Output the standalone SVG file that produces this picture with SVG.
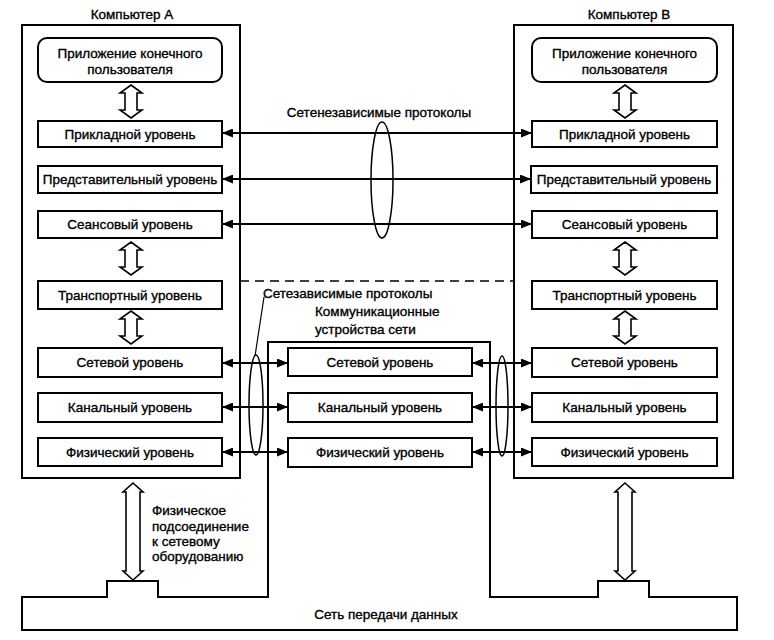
<svg xmlns="http://www.w3.org/2000/svg" width="774" height="640" viewBox="0 0 774 640">
<style>
.box{fill:#fff;stroke:#000;stroke-width:2}
.outer{fill:none;stroke:#000;stroke-width:2}
.t{font-family:"Liberation Sans",Arial,sans-serif;font-size:13.5px;fill:#000;stroke:#000;stroke-width:0.35}
.c{text-anchor:middle}
.ln{stroke:#000;stroke-width:2;fill:none}
.hol{fill:#fff;stroke:#000;stroke-width:1.6;stroke-linejoin:miter}
.ell{fill:none;stroke:#000;stroke-width:1.5}
</style>
<defs>
<marker id="ah" markerUnits="userSpaceOnUse" markerWidth="11" markerHeight="9" refX="11" refY="4.5" orient="auto-start-reverse">
<path d="M0,0 L11,4.5 L0,9 Z" fill="#000"/>
</marker>
<path id="vshort" class="hol" d="M0,0 L11,8 L6,8 L6,25 L11,25 L0,33 L-11,25 L-6,25 L-6,8 L-11,8 Z"/>
<path id="vlong" class="hol" d="M0,0 L10,9 L7,9 L7,88 L10,88 L0,97 L-10,88 L-7,88 L-7,9 L-10,9 Z"/>
</defs>

<!-- Network / communication devices outline -->
<g id="network">
<path class="outer" d="M268,342 L268,597 L158,597 L158,581 L107,581 L107,597 L22,597 L22,630 L737,630 L737,597 L649,597 L649,581 L598,581 L598,597 L490,597 L490,342 Z"/>
<text class="t c" x="386" y="619">Сеть передачи данных</text>
<text class="t" x="315" y="316">Коммуникационные</text>
<text class="t" x="315" y="334">устройства сети</text>
</g>

<!-- Computer A -->
<g id="computerA">
<text class="t c" x="132" y="19">Компьютер А</text>
<rect class="outer" x="22" y="25" width="218" height="453"/>
</g>
<g id="A-app"><rect class="box" x="38" y="38" width="184" height="44" rx="9"/><text class="t c" x="130" y="58">Приложение конечного</text><text class="t c" x="130" y="74">пользователя</text></g>
<g id="A-L7"><rect class="box" x="38" y="121" width="184" height="26"/><text class="t c" x="130" y="138.5">Прикладной уровень</text></g>
<g id="A-L6"><rect class="box" x="38" y="166" width="184" height="27"/><text class="t c" x="130" y="184">Представительный уровень</text></g>
<g id="A-L5"><rect class="box" x="38" y="211" width="184" height="27"/><text class="t c" x="130" y="229">Сеансовый уровень</text></g>
<g id="A-L4"><rect class="box" x="38" y="281" width="184" height="28"/><text class="t c" x="130" y="299.5">Транспортный уровень</text></g>
<g id="A-L3"><rect class="box" x="38" y="348" width="184" height="29"/><text class="t c" x="130" y="367">Сетевой уровень</text></g>
<g id="A-L2"><rect class="box" x="38" y="393" width="184" height="29"/><text class="t c" x="130" y="412">Канальный уровень</text></g>
<g id="A-L1"><rect class="box" x="38" y="438" width="184" height="28"/><text class="t c" x="130" y="456.5">Физический уровень</text></g>

<!-- Computer B -->
<g id="computerB">
<text class="t c" x="629" y="19">Компьютер В</text>
<rect class="outer" x="514" y="25" width="219" height="453"/>
</g>
<g id="B-app"><rect class="box" x="532" y="38" width="185" height="44" rx="9"/><text class="t c" x="624.5" y="58">Приложение конечного</text><text class="t c" x="624.5" y="74">пользователя</text></g>
<g id="B-L7"><rect class="box" x="532" y="121" width="185" height="26"/><text class="t c" x="624.5" y="138.5">Прикладной уровень</text></g>
<g id="B-L6"><rect class="box" x="531" y="166" width="186" height="27"/><text class="t c" x="624" y="184">Представительный уровень</text></g>
<g id="B-L5"><rect class="box" x="532" y="211" width="185" height="27"/><text class="t c" x="624.5" y="229">Сеансовый уровень</text></g>
<g id="B-L4"><rect class="box" x="532" y="281" width="185" height="28"/><text class="t c" x="624.5" y="299.5">Транспортный уровень</text></g>
<g id="B-L3"><rect class="box" x="532" y="348" width="185" height="29"/><text class="t c" x="624.5" y="367">Сетевой уровень</text></g>
<g id="B-L2"><rect class="box" x="532" y="393" width="185" height="29"/><text class="t c" x="624.5" y="412">Канальный уровень</text></g>
<g id="B-L1"><rect class="box" x="532" y="438" width="185" height="28"/><text class="t c" x="624.5" y="456.5">Физический уровень</text></g>

<!-- Communication devices -->
<g id="M-L3"><rect class="box" x="288" y="348" width="184" height="28"/><text class="t c" x="380" y="366.5">Сетевой уровень</text></g>
<g id="M-L2"><rect class="box" x="288" y="393" width="184" height="29"/><text class="t c" x="380" y="412">Канальный уровень</text></g>
<g id="M-L1"><rect class="box" x="288" y="438" width="184" height="29"/><text class="t c" x="380" y="457">Физический уровень</text></g>

<!-- Connectors -->
<g id="connectors">
<use href="#vshort" x="131" y="85"/>
<use href="#vshort" x="131" y="242"/>
<use href="#vshort" x="131" y="311"/>
<use href="#vshort" x="625" y="85"/>
<use href="#vshort" x="625" y="242"/>
<use href="#vshort" x="625" y="311"/>
<use href="#vlong" x="133" y="483"/>
<use href="#vlong" x="625" y="483"/>

<line class="ln" x1="222" y1="133" x2="532" y2="133" marker-start="url(#ah)" marker-end="url(#ah)"/>
<line class="ln" x1="222" y1="179" x2="531" y2="179" marker-start="url(#ah)" marker-end="url(#ah)"/>
<line class="ln" x1="222" y1="224" x2="532" y2="224" marker-start="url(#ah)" marker-end="url(#ah)"/>

<line class="ln" x1="222" y1="363" x2="288" y2="363" marker-start="url(#ah)" marker-end="url(#ah)"/>
<line class="ln" x1="222" y1="407" x2="288" y2="407" marker-start="url(#ah)" marker-end="url(#ah)"/>
<line class="ln" x1="222" y1="452" x2="288" y2="452" marker-start="url(#ah)" marker-end="url(#ah)"/>
<line class="ln" x1="472" y1="363" x2="532" y2="363" marker-start="url(#ah)" marker-end="url(#ah)"/>
<line class="ln" x1="472" y1="407" x2="532" y2="407" marker-start="url(#ah)" marker-end="url(#ah)"/>
<line class="ln" x1="472" y1="452" x2="532" y2="452" marker-start="url(#ah)" marker-end="url(#ah)"/>

<line x1="240" y1="281" x2="514" y2="281" stroke="#000" stroke-width="1.5" stroke-dasharray="9,6"/>

<ellipse class="ell" cx="382" cy="180" rx="11" ry="58"/>
<ellipse class="ell" cx="256" cy="405" rx="7" ry="50"/>
<ellipse class="ell" cx="502" cy="406" rx="6" ry="50"/>
<line x1="264" y1="297" x2="255" y2="356" stroke="#000" stroke-width="1.2"/>
</g>

<g id="labels">
<text class="t c" x="379" y="117">Сетенезависимые протоколы</text>
<text class="t" x="263" y="298">Сетезависимые протоколы</text>
<text class="t" x="152" y="514.5">Физическое</text>
<text class="t" x="152" y="530.5">подсоединение</text>
<text class="t" x="152" y="546">к сетевому</text>
<text class="t" x="152" y="560.5">оборудованию</text>
</g>
</svg>
